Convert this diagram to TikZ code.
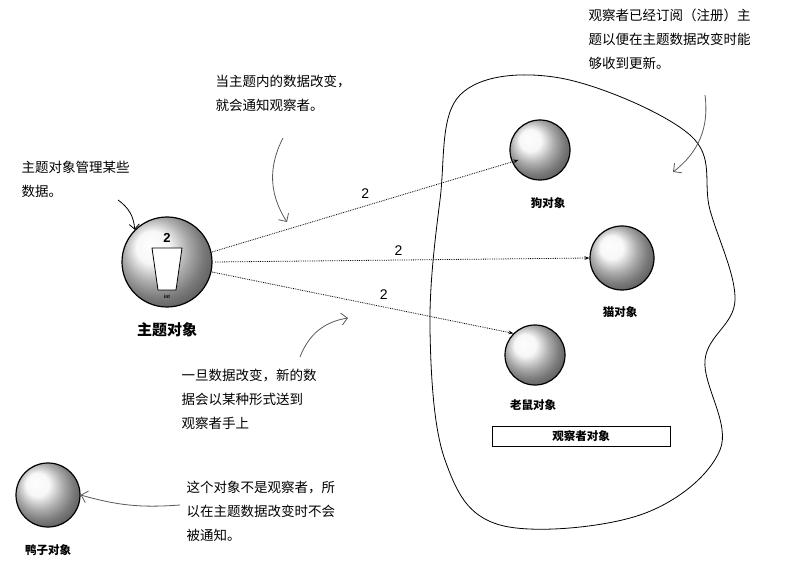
\documentclass[tikz,border=0pt]{standalone}
\usepackage{fontspec}
\setmainfont{Liberation Sans}
\newfontfamily\cjk{Noto Sans CJK SC}
\usetikzlibrary{arrows.meta}
\tikzset{
  obj/.style={circle, draw=black, very thick, ball color=gray!8, minimum size=#1},
  objlabel/.style={font=\cjk\bfseries\fontsize{11.5}{13}\selectfont},
  note/.style={font=\cjk\fontsize{13.5}{24}\selectfont, align=left, anchor=north west},
  notify/.style={densely dotted, thick, -{Stealth[length=5pt]}},
  hint/.style={thick, draw=gray!70!black, -{Straight Barb[length=6pt]}},
}
\begin{document}
\begin{tikzpicture}[x=1pt, y=-1pt]
\useasboundingbox (0,0) rectangle (801,580);
% observers
\draw[thick] plot[smooth cycle, tension=0.6] coordinates {(460,95) (560,78) (690,135) (710,210) (735,300) (705,360) (720,450) (640,515) (500,525) (445,460) (430,330) (440,200)};
\node[obj=90pt] (subj) at (167,262) {};
\node[obj=60pt] (dog) at (540,150) {};
\node[obj=64pt] (cat) at (622,258) {};
\node[obj=60pt] (mouse) at (535,355) {};
\node[obj=64pt] (duck) at (48,495) {};
% cup inside subject
\draw[thick, fill=white] (152,248) -- (182,248) -- (176,290) -- (158,290) -- cycle;
\node[font=\bfseries\fontsize{13}{13}\selectfont] (val) at (167,238) {2};
\node[font=\bfseries\fontsize{5}{5}\selectfont] (int) at (167,297) {int};
\node[font=\cjk\bfseries\fontsize{15}{16}\selectfont] (subjl) at (167,330) {主题对象};
\node[objlabel] (dogl) at (548,203) {狗对象};
\node[objlabel] (catl) at (620,312) {猫对象};
\node[objlabel] (mousel) at (533,405) {老鼠对象};
\node[objlabel] (duckl) at (48,550) {鸭子对象};
\node[draw, thick, minimum width=178pt, minimum height=20pt, objlabel] (obs) at (581,436) {观察者对象};
% notifications
\coordinate (s1) at (212,252);
\coordinate (s2) at (215,262);
\coordinate (s3) at (212,272);
\draw[notify] (s1) -- (dog.south west |- 0,160) node[pos=0.5, above=4pt, font=\fontsize{14}{14}\selectfont] {2};
\draw[notify] (s2) -- (cat.west) node[pos=0.49, above=1pt, font=\fontsize{14}{14}\selectfont] {2};
\draw[notify] (s3) -- (mouse.north west) node[pos=0.57, above=4pt, font=\fontsize{14}{14}\selectfont] {2};
% notes
\node[note] (n1) at (18,158) {主题对象管理某些\\数据。};
\node[note] (n2) at (212,72) {当主题内的数据改变，\\就会通知观察者。};
\node[note] (n3) at (585,5) {观察者已经订阅（注册）主\\题以便在主题数据改变时能\\够收到更新。};
\node[note] (n4) at (178,366) {一旦数据改变，新的数\\据会以某种形式送到\\观察者手上};
\node[note] (n5) at (183,478) {这个对象不是观察者，所\\以在主题数据改变时不会\\被通知。};
\coordinate (h1) at (118,200);
\coordinate (h2) at (283,138);
\coordinate (h3) at (300,357);
\coordinate (h4) at (705,95);
\coordinate (h5) at (180,505);
\draw[thick, -{Straight Barb[length=5pt]}] (h1) to[bend left=25] (subj.north west);
\draw[hint] (h2) to[bend right=30] (287,222);
\draw[hint] (h3) to[bend left=30] (348,318);
\draw[hint] (h4) to[bend left=30] (673,172);
\draw[hint] (h5) to[bend left=10] (duck.east);
\end{tikzpicture}
\end{document}
